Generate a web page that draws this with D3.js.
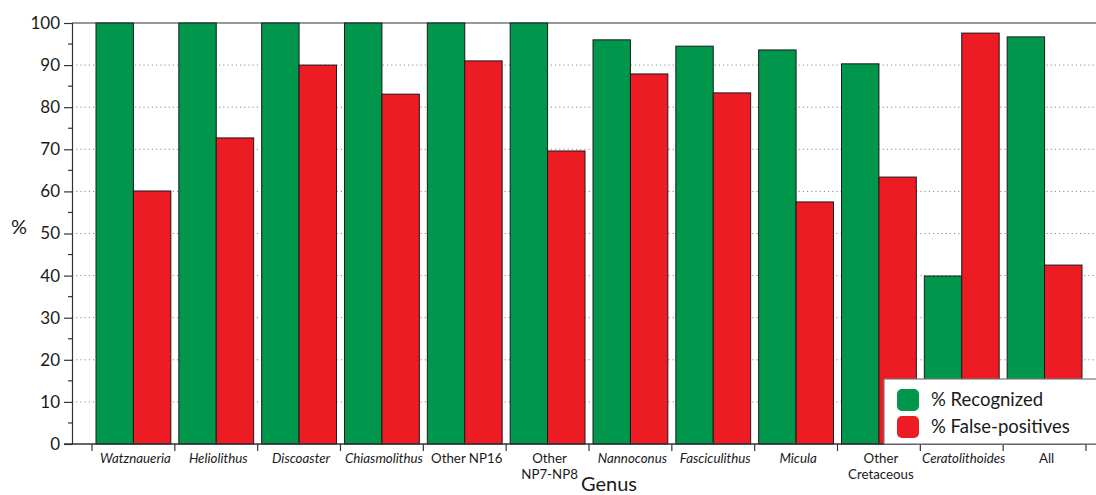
<!DOCTYPE html>
<html><head><meta charset="utf-8">
<script src="https://cdn.jsdelivr.net/npm/d3@7"></script>
<style>body{margin:0;background:#fff}svg{display:block}text{font-family:Lato,"Noto Sans",sans-serif;fill:#1a1a1a}</style>
</head><body><svg id="c" width="1096" height="495"></svg>
<script>
const categories = ["Watznaueria","Heliolithus","Discoaster","Chiasmolithus","Other NP16","Other NP7-NP8","Nannoconus","Fasciculithus","Micula","Other Cretaceous","Ceratolithoides","All"];
const labelLines = [["Watznaueria"],["Heliolithus"],["Discoaster"],["Chiasmolithus"],["Other NP16"],["Other","NP7-NP8"],["Nannoconus"],["Fasciculithus"],["Micula"],["Other","Cretaceous"],["Ceratolithoides"],["All"]];
const italicLabel = [true,true,true,true,false,false,true,true,true,false,true,false];
const recognized = [100,100,100,100,100,100,96.0,94.5,93.6,90.3,39.9,96.7];
const falsePositives = [60.1,72.7,90.0,83.1,91.0,69.6,87.9,83.4,57.5,63.4,97.6,42.5];
const yTicks = [0,10,20,30,40,50,60,70,80,90,100];
const seriesNames = ["% Recognized","% False-positives"];
const colors = ["#00964C","#ED1C24"];

const svg = d3.select("#c");
const y = d3.scaleLinear().domain([0,100]).range([444,23]);
const x = d3.scaleBand().domain(categories).range([92,1086]).paddingInner(0).paddingOuter(0);
const bw = x.bandwidth();
const xs = d3.scaleBand().domain([0,1]).range([4,bw-4]);

// gridlines
svg.append("g").selectAll("line").data(yTicks.filter(t=>t>0&&t<100)).join("line")
  .attr("x1",72).attr("x2",1096).attr("y1",d=>y(d)).attr("y2",d=>y(d))
  .attr("stroke","#888").attr("stroke-width",1).attr("stroke-dasharray","1.2,3");
// top line
svg.append("line").attr("x1",72).attr("x2",1096).attr("y1",y(100)).attr("y2",y(100))
  .attr("stroke","#777").attr("stroke-width",1.5);

// bars
const g = svg.append("g");
categories.forEach((c,i)=>{
  [recognized[i], falsePositives[i]].forEach((v,s)=>{
    g.append("rect").attr("x",x(c)+xs(s)).attr("width",xs.bandwidth())
      .attr("y",y(v)).attr("height",y(0)-y(v))
      .attr("fill",colors[s]).attr("stroke","#1a1a1a").attr("stroke-width",1);
  });
});

// y axis
const ya = svg.append("g").attr("transform","translate(72,0)")
  .call(d3.axisLeft(y).tickValues(yTicks).tickSize(8).tickPadding(4));
ya.select(".domain").attr("stroke","#333").attr("stroke-width",1.2);
ya.selectAll(".tick line").attr("stroke","#333").attr("stroke-width",1.2);
ya.selectAll(".tick text").attr("font-size",17).attr("font-family","Lato, 'Noto Sans', sans-serif").attr("fill","#1a1a1a");
svg.append("g").selectAll("line").data(yTicks.slice(0,-1).map(t=>t+5)).join("line")
  .attr("x1",68).attr("x2",72).attr("y1",d=>y(d)).attr("y2",d=>y(d)).attr("stroke","#333").attr("stroke-width",1.2);

// x axis
svg.append("line").attr("x1",64).attr("x2",1096).attr("y1",y(0)).attr("y2",y(0)).attr("stroke","#333").attr("stroke-width",1.5);
const tickXs = categories.map(c=>x(c)).concat([x(categories[categories.length-1])+bw]);
svg.append("g").selectAll("line").data(tickXs).join("line")
  .attr("x1",d=>d).attr("x2",d=>d).attr("y1",y(0)).attr("y2",y(0)+7).attr("stroke","#333").attr("stroke-width",1.2);
categories.forEach((c,i)=>{
  const t = svg.append("text").attr("x",x(c)+bw/2+2).attr("y",463).attr("text-anchor","middle")
    .attr("font-size",13.3).attr("font-style",italicLabel[i]?"italic":"normal");
  labelLines[i].forEach((l,j)=>t.append("tspan").attr("x",x(c)+bw/2+2).attr("dy",j?16:0).text(l));
});

svg.append("text").attr("x",609).attr("y",491).attr("text-anchor","middle").attr("font-size",20).text("Genus");
svg.append("text").attr("x",19).attr("y",234).attr("text-anchor","middle").attr("font-size",20).text("%");

// legend
const lg = svg.append("g");
lg.append("rect").attr("x",884).attr("y",379).attr("width",220).attr("height",65).attr("fill","#fff").attr("stroke","#777").attr("stroke-width",1.2);
seriesNames.forEach((n,i)=>{
  lg.append("rect").attr("x",897).attr("y",389+i*27).attr("width",22).attr("height",22).attr("rx",5).attr("fill",colors[i]);
  lg.append("text").attr("x",931).attr("y",406+i*27).attr("font-size",18.5).text(n);
});
</script></body></html>
